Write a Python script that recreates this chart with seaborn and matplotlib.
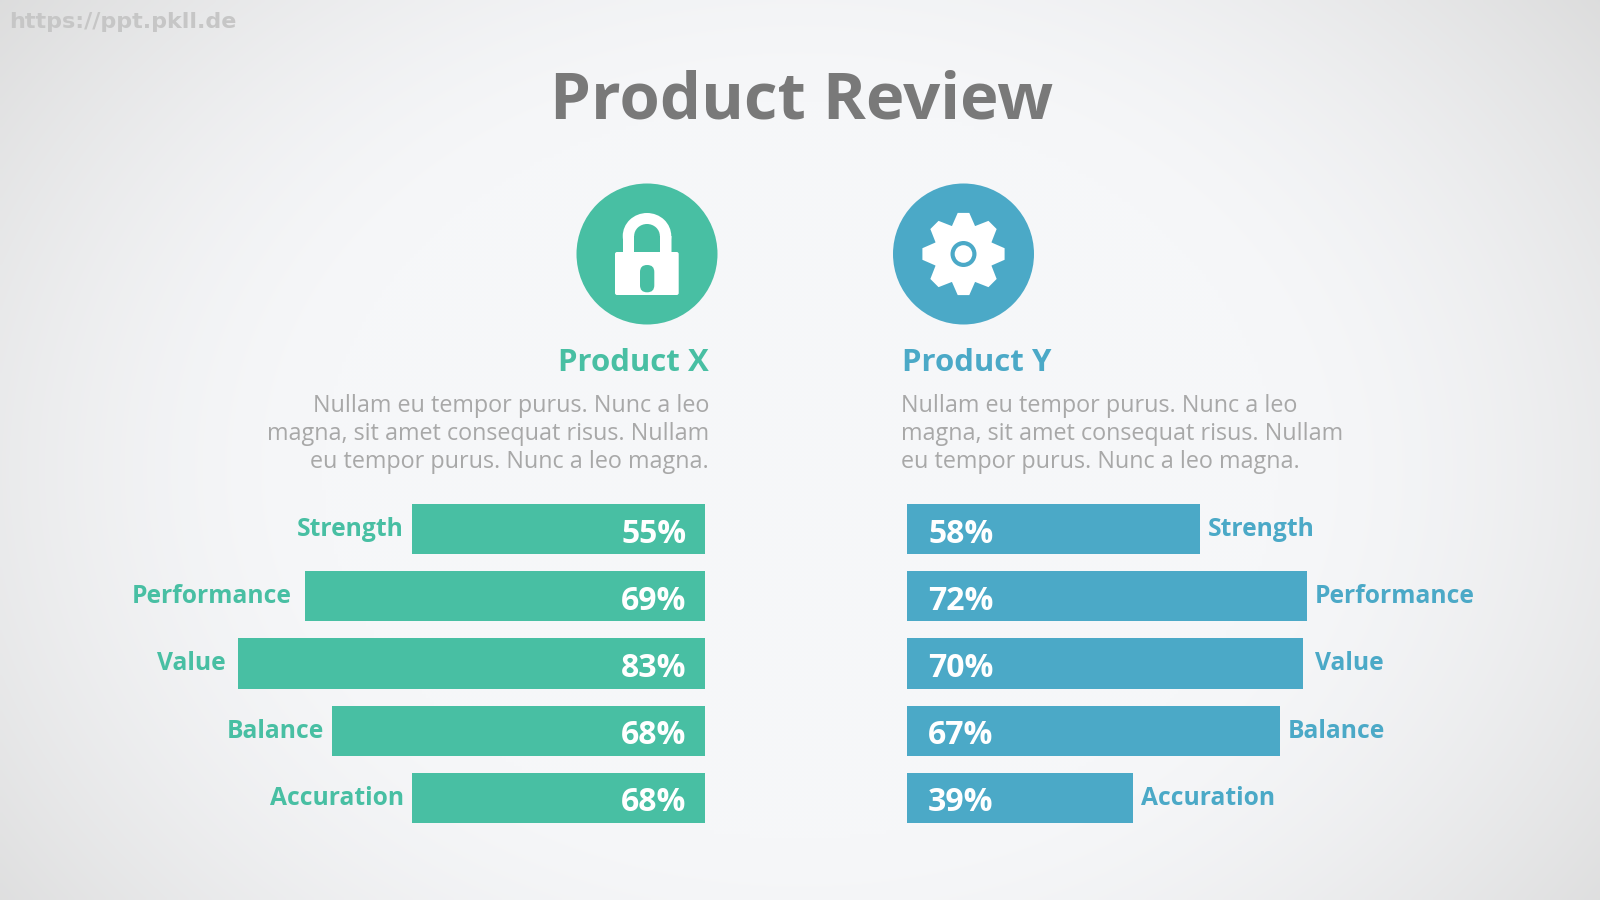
import numpy as np
import pandas as pd
import matplotlib
matplotlib.use("Agg")
import matplotlib.pyplot as plt
import seaborn as sns
from matplotlib.patches import Circle, Ellipse, FancyBboxPatch, Polygon, Rectangle

# ---- data -------------------------------------------------------------
categories = ["Strength", "Performance", "Value", "Balance", "Accuration"]
x_labels = ["55%", "69%", "83%", "68%", "68%"]
y_labels = ["58%", "72%", "70%", "67%", "39%"]
# drawn lengths differ from the printed percentages in the reference
x_lengths = [52.3, 71.4, 83.4, 66.6, 52.3]
y_lengths = [52.3, 71.4, 70.7, 66.6, 40.4]
body_lines = ["Nullam eu tempor purus. Nunc a leo",
              "magna, sit amet consequat risus. Nullam",
              "eu tempor purus. Nunc a leo magna."]

GREEN = "#48BFA3"
BLUE = "#4BA9C7"
FONT = "Open Sans"

sns.set_theme(style="white")
plt.rcParams["font.family"] = [FONT, "DejaVu Sans"]

W, H = 1600, 900
fig = plt.figure(figsize=(16, 9), dpi=100)


def px_axes(x0, y0, x1, y1, **kw):
    return fig.add_axes([x0 / W, 1 - y1 / H, (x1 - x0) / W, (y1 - y0) / H], **kw)


# ---- background and page furniture (pixel coordinates) ----------------
bg = px_axes(0, 0, W, H)
bg.set_xlim(0, W)
bg.set_ylim(H, 0)
bg.axis("off")
yy, xx = np.mgrid[0:H:225j, 0:W:400j]
r = np.hypot((xx - 800) / 800, (yy - 470) / 620)
shade = np.clip((r - 0.6) / 0.72, 0, 1) ** 1.5
base = np.array([246, 247, 249]) / 255
edge = np.array([217, 217, 217]) / 255
img = base + (edge - base) * shade[..., None]
bg.imshow(img, extent=(0, W, H, 0), aspect="auto", zorder=0, interpolation="bilinear")

bg.text(9, 22, "https://ppt.pkll.de", fontsize=16, fontweight="bold", color="#c6c6c6",
        family="DejaVu Sans", ha="left", va="center")
bg.text(802, 102, "Product Review", fontsize=47, fontweight="bold", color="#797979",
        ha="center", va="center")

bg.text(708.5, 363, "Product X", fontsize=22.4, fontweight="bold", color=GREEN, ha="right", va="center")
bg.text(901.5, 363, "Product Y", fontsize=22.4, fontweight="bold", color=BLUE, ha="left", va="center")
for ypx, line in zip([406, 434, 462], body_lines):
    bg.text(709, ypx, line, fontsize=16.8, color="#a8a8a8", ha="right", va="center")
    bg.text(901, ypx, line, fontsize=16.8, color="#a8a8a8", ha="left", va="center")

# lock icon
bg.add_patch(Circle((647, 254), 70.5, color=GREEN, lw=0, zorder=2))
bg.add_patch(FancyBboxPatch((623, 236), 48.5, 30, boxstyle="round,pad=0,rounding_size=0.1", color="white", lw=0, zorder=3))
bg.add_patch(Ellipse((647, 236), 48.5, 46, color="white", lw=0, zorder=3))
bg.add_patch(Rectangle((634.3, 236), 25.7, 20, color=GREEN, lw=0, zorder=3.1))
bg.add_patch(Ellipse((647, 236), 25.7, 24, color=GREEN, lw=0, zorder=3.1))
bg.add_patch(FancyBboxPatch((615, 252), 63.7, 43, boxstyle="round,pad=0,rounding_size=2", color="white", lw=0, zorder=3.2))
bg.add_patch(FancyBboxPatch((640, 265), 14.3, 27.3, boxstyle="round,pad=0,rounding_size=7", color=GREEN, lw=0, zorder=3.3))

# gear icon
cx, cy = 963.5, 254
bg.add_patch(Circle((cx, cy), 70.5, color=BLUE, lw=0, zorder=2))
pts = []
for k in range(8):
    a = k * np.pi / 4 - np.pi / 2
    for da, rad in [(-0.40, 30), (-0.14, 41.5), (0.14, 41.5), (0.40, 30)]:
        pts.append((cx + rad * np.cos(a + da), cy + rad * np.sin(a + da)))
bg.add_patch(Polygon(pts, closed=True, color="white", lw=0, zorder=3))
bg.add_patch(Circle((cx, cy), 13, color=BLUE, lw=0, zorder=3.1))
bg.add_patch(Circle((cx, cy), 8.8, color="white", lw=0, zorder=3.2))

# ---- bars -------------------------------------------------------------
TOP, BOTTOM = 495.5, 831.5
SCALE = 5.6  # px per unit
left_gap = [8, 14, 12, 8, 8]
right_gap = [8, 8, 12, 8, 8]


def panel(x0, x1, xlim, lengths, labels, color, gaps, side):
    ax = px_axes(x0, TOP, x1, BOTTOM)
    ax.patch.set_alpha(0)
    df = pd.DataFrame({"category": categories, "length": lengths})
    sns.barplot(data=df, y="category", x="length", color=color, saturation=1,
                width=0.75, orient="h", linewidth=0, ax=ax)
    ax.set_xlim(*xlim)
    ax.set_ylim(4.5, -0.5)
    ax.axis("off")
    pct_pad = 21 if side > 0 else 18.5
    for i, (cat, length, lab, gap) in enumerate(zip(categories, lengths, labels, gaps)):
        ax.annotate(lab, xy=(0, i), xytext=(side * pct_pad * 0.72, -5 * 0.72),
                    textcoords="offset points", ha="left" if side > 0 else "right", va="center",
                    fontsize=23, fontweight="bold", color="white")
        ax.annotate(cat, xy=(length, i), xytext=(side * gap * 0.72, -0.5 * 0.72),
                    textcoords="offset points", ha="left" if side > 0 else "right", va="center",
                    fontsize=17.7, fontweight="bold", color=color, annotation_clip=False)
    return ax


panel(705 - SCALE * 100, 705, (100, 0), x_lengths, x_labels, GREEN, left_gap, -1)
panel(907, 907 + SCALE * 100, (0, 100), y_lengths, y_labels, BLUE, right_gap, 1)

fig.savefig("out.png", dpi=100)
